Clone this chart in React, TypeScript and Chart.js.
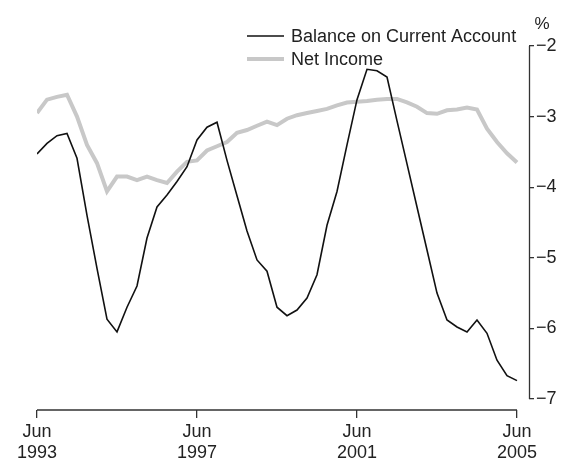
import React, { useEffect, useRef } from "react";
import { Chart, registerables } from "chart.js";

Chart.register(...registerables);

const quarters = [
  "Jun 1993", "Sep 1993", "Dec 1993", "Mar 1994",
  "Jun 1994", "Sep 1994", "Dec 1994", "Mar 1995",
  "Jun 1995", "Sep 1995", "Dec 1995", "Mar 1996",
  "Jun 1996", "Sep 1996", "Dec 1996", "Mar 1997",
  "Jun 1997", "Sep 1997", "Dec 1997", "Mar 1998",
  "Jun 1998", "Sep 1998", "Dec 1998", "Mar 1999",
  "Jun 1999", "Sep 1999", "Dec 1999", "Mar 2000",
  "Jun 2000", "Sep 2000", "Dec 2000", "Mar 2001",
  "Jun 2001", "Sep 2001", "Dec 2001", "Mar 2002",
  "Jun 2002", "Sep 2002", "Dec 2002", "Mar 2003",
  "Jun 2003", "Sep 2003", "Dec 2003", "Mar 2004",
  "Jun 2004", "Sep 2004", "Dec 2004", "Mar 2005",
  "Jun 2005",
];

const balanceOnCurrentAccount = [
  -3.53, -3.38, -3.27, -3.24, -3.59, -4.40, -5.15, -5.87,
  -6.05, -5.70, -5.40, -4.72, -4.28, -4.11, -3.92, -3.71,
  -3.33, -3.15, -3.08, -3.62, -4.12, -4.62, -5.03, -5.19,
  -5.70, -5.82, -5.74, -5.57, -5.24, -4.54, -4.06, -3.40,
  -2.76, -2.33, -2.35, -2.44, -3.06, -3.67, -4.28, -4.89,
  -5.50, -5.88, -5.98, -6.05, -5.88, -6.07, -6.45, -6.67,
  -6.74,
];

const netIncome = [
  -2.95, -2.76, -2.72, -2.69, -3.00, -3.40, -3.66, -4.06,
  -3.85, -3.85, -3.90, -3.85, -3.90, -3.94, -3.78, -3.64,
  -3.62, -3.48, -3.42, -3.36, -3.23, -3.19, -3.13, -3.07,
  -3.12, -3.03, -2.98, -2.95, -2.92, -2.89, -2.84, -2.80,
  -2.79, -2.78, -2.76, -2.75, -2.75, -2.80, -2.86, -2.95,
  -2.96, -2.91, -2.90, -2.87, -2.90, -3.17, -3.36, -3.52,
  -3.65,
];

const xTickQuarters = ["Jun 1993", "Jun 1997", "Jun 2001", "Jun 2005"];
const yTickValues = [-7, -6, -5, -4, -3, -2];
const yUnit = "%";

const FONT = "'Liberation Sans', Arial, sans-serif";
const TEXT = "#222222";
const AXIS = "#333333";

const axisPlugin = {
  id: "axisLinesAndLegend",
  afterDraw(chart: any) {
    const ctx = chart.ctx;
    const xs = chart.scales.x;
    const ys = chart.scales.y;
    const { bottom, right, top } = chart.chartArea;
    const firstX = xs.getPixelForValue(quarters.indexOf(xTickQuarters[0]));
    const lastX = xs.getPixelForValue(quarters.indexOf(xTickQuarters[xTickQuarters.length - 1]));
    const yTop = ys.getPixelForValue(yTickValues[yTickValues.length - 1]);
    const yBot = ys.getPixelForValue(yTickValues[0]);
    ctx.save();
    ctx.strokeStyle = AXIS;
    ctx.lineWidth = 1.3;
    ctx.beginPath();
    ctx.moveTo(firstX, bottom);
    ctx.lineTo(lastX, bottom);
    ctx.moveTo(right + 0.5, yTop);
    ctx.lineTo(right + 0.5, yBot);
    ctx.stroke();

    // unit label
    ctx.fillStyle = TEXT;
    ctx.font = `17px ${FONT}`;
    ctx.textAlign = "center";
    ctx.textBaseline = "middle";
    ctx.fillText(yUnit, right + 13, top - 22);

    // legend
    ctx.textAlign = "left";
    ctx.font = `18px ${FONT}`;
    chart.data.datasets.forEach((ds: any, i: number) => {
      const ly = 36 + i * 23;
      ctx.strokeStyle = ds.borderColor;
      ctx.lineWidth = ds.borderWidth;
      ctx.beginPath();
      ctx.moveTo(247, ly);
      ctx.lineTo(284, ly);
      ctx.stroke();
      ctx.fillStyle = TEXT;
      ctx.fillText(ds.label, 291, ly + 1);
    });
    ctx.restore();
  },
};

export default function App() {
  const canvasRef = useRef<HTMLCanvasElement | null>(null);

  useEffect(() => {
    if (!canvasRef.current) return;
    const chart = new Chart(canvasRef.current, {
      type: "line",
      data: {
        datasets: [
          {
            label: "Balance on Current Account",
            data: balanceOnCurrentAccount.map((v, i) => ({ x: i, y: v })),
            borderColor: "#111111",
            borderWidth: 1.6,
            pointRadius: 0,
            tension: 0,
            fill: false,
          },
          {
            label: "Net Income",
            data: netIncome.map((v, i) => ({ x: i, y: v })),
            borderColor: "#c8c8c8",
            borderWidth: 4,
            pointRadius: 0,
            tension: 0,
            fill: false,
          },
        ],
      },
      options: {
        animation: false,
        responsive: false,
        devicePixelRatio: 1,
        layout: { padding: { top: 46, left: 37, right: 0, bottom: 0 } },
        plugins: {
          legend: { display: false },
          tooltip: { enabled: false },
        },
        scales: {
          x: {
            type: "linear",
            min: 0,
            max: 49.2,
            afterBuildTicks: (scale: any) => {
              scale.ticks = xTickQuarters.map((q) => ({ value: quarters.indexOf(q) }));
            },
            afterFit: (scale: any) => {
              scale.height = 56;
            },
            grid: {
              display: true,
              drawOnChartArea: false,
              drawTicks: true,
              tickLength: 8,
              color: AXIS,
              lineWidth: 1.3,
            },
            border: { display: false },
            ticks: {
              autoSkip: false,
              maxRotation: 0,
              padding: 4,
              color: TEXT,
              font: { family: FONT, size: 18, lineHeight: 1.15 },
              callback: (v: any) => {
                const q = quarters[Math.round(Number(v))];
                return q ? q.split(" ") : "";
              },
            },
          },
          y: {
            type: "linear",
            position: "right",
            min: -7.156,
            max: -2,
            afterBuildTicks: (scale: any) => {
              scale.ticks = yTickValues.map((v) => ({ value: v }));
            },
            afterFit: (scale: any) => {
              scale.width = 35;
            },
            grid: {
              display: true,
              drawOnChartArea: false,
              drawTicks: true,
              tickLength: 5,
              color: AXIS,
              lineWidth: 1.3,
            },
            border: { display: false },
            ticks: {
              padding: 2,
              color: TEXT,
              font: { family: FONT, size: 18 },
              callback: (v: any) => {
                const n = Number(v);
                return (n < 0 ? "\u2212" : "") + Math.abs(n);
              },
            },
          },
        },
      },
      plugins: [axisPlugin],
    });
    return () => chart.destroy();
  }, []);

  return (
    <div style={{ position: "absolute", left: 0, top: 0, width: 564, height: 466, background: "#fff" }}>
      <canvas ref={canvasRef} width={564} height={466} style={{ display: "block" }} />
    </div>
  );
}
